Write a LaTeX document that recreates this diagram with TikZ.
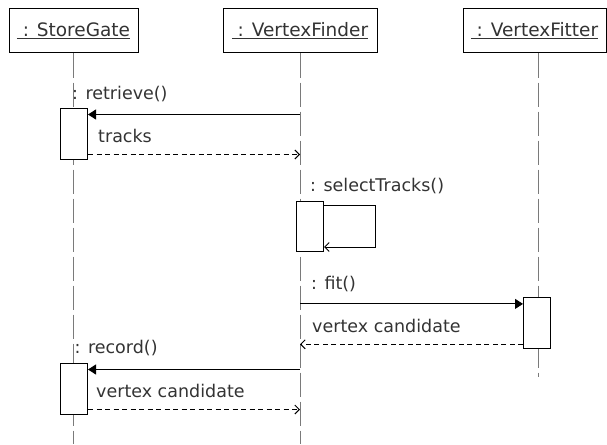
\documentclass[tikz,border=0pt]{standalone}
\usepackage{fontspec}
\setmainfont{DejaVu Sans}
\usetikzlibrary{arrows.meta,positioning,calc}

\definecolor{lifegray}{HTML}{7A7A7A}
\definecolor{labelgray}{HTML}{333333}

\tikzset{
  object/.style={draw, line width=1pt, minimum height=44pt, inner sep=0pt,
                 text=labelgray, font=\fontsize{18.5}{21}\selectfont},
  lifeline/.style={draw=lifegray, line width=1pt, dash pattern=on 24pt off 5pt},
  activation/.style={draw, line width=1pt, fill=white, minimum width=27pt, inner sep=0pt},
  call/.style={line width=1pt, -{Triangle[length=8pt,width=10pt]}},
  reply/.style={line width=1pt, dash pattern=on 5pt off 3.5pt, -{Straight Barb[length=4.5pt,width=9pt]}},
  selfcall/.style={line width=1pt, -{Straight Barb[length=4.5pt,width=9pt]}},
  msg/.style={anchor=base west, inner sep=0pt, text=labelgray, font=\fontsize{17.5}{20}\selectfont},
}

\begin{document}
\begin{tikzpicture}[x=1pt, y=-1pt]
  \useasboundingbox (0,0) rectangle (607,444);
  % Objects
  \node[object, minimum width=129pt] (storegate) at (73.5,31) {\underline{~: StoreGate}};
  \node[object, minimum width=154pt] (finder) at (300,31) {\underline{~: VertexFinder}};
  \node[object, minimum width=143pt] (fitter) at (534.5,31) {\underline{~: VertexFitter}};
  % Lifelines
  \coordinate (sgend) at (73.5,444);
  \coordinate (vfend) at (300,444);
  \coordinate (vtend) at (538,377);
  \draw[lifeline] (storegate.south) -- (sgend);
  \draw[lifeline] (finder.south) -- (vfend);
  \draw[lifeline] (fitter.south -| vtend) -- (vtend);
  % Activations
  \node[activation, minimum height=51pt] (sgact1) at (74,133.5) {};
  \node[activation, minimum height=50pt] (vfact) at (310,226) {};
  \node[activation, minimum height=51pt] (vtact) at (537,323.3) {};
  \node[activation, minimum height=51pt] (sgact2) at (74,388.5) {};
  % retrieve
  \draw[call] ([yshift=-7pt]sgact1.north east -| finder) -- ([yshift=-7pt]sgact1.north east);
  \node[msg] (retrieve) at (72,99) {: retrieve()};
  \draw[reply] ([yshift=5pt]sgact1.south east) -- ([yshift=5pt]sgact1.south east -| finder);
  \node[msg] (tracks) at (98,142) {tracks};
  % selectTracks
  \draw[selfcall] ([yshift=-4.5pt]vfact.north east) -- ++(51.5,0) |- ([yshift=4.5pt]vfact.south east);
  \node[msg] (select) at (310,191) {: selectTracks()};
  % fit
  \draw[call] ([yshift=-6.6pt]vtact.north west -| finder) -- ([yshift=-6.6pt]vtact.north west);
  \node[msg] (fit) at (311,289) {: fit()};
  \draw[reply] ([yshift=5pt]vtact.south west) -- ([yshift=5pt]vtact.south west -| finder);
  \node[msg] (cand1) at (312,332) {vertex candidate};
  % record
  \draw[call] ([yshift=-7pt]sgact2.north east -| finder) -- ([yshift=-7pt]sgact2.north east);
  \node[msg] (record) at (74.5,353) {: record()};
  \draw[reply] ([yshift=5pt]sgact2.south east) -- ([yshift=5pt]sgact2.south east -| finder);
  \node[msg] (cand2) at (96,397) {vertex candidate};
\end{tikzpicture}
\end{document}
